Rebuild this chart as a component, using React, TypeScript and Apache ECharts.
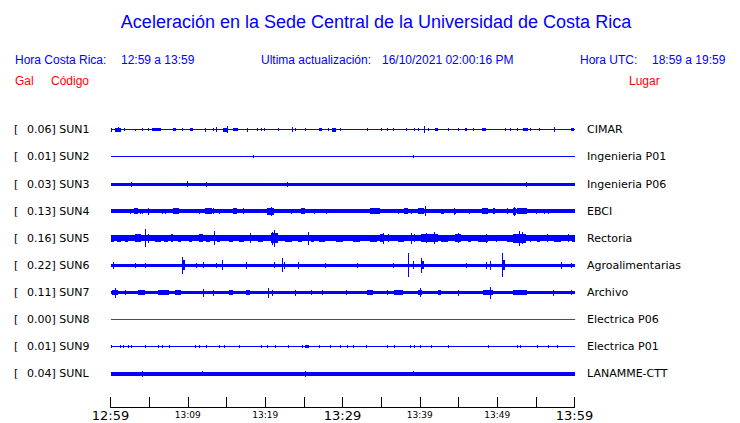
import React, { useEffect, useRef } from "react";
import * as echarts from "echarts";

// ---- data ----
const STATIONS = ["SUN1", "SUN2", "SUN3", "SUN4", "SUN5", "SUN6", "SUN7", "SUN8", "SUN9", "SUNL"];
const PEAK_GAL = [0.06, 0.01, 0.03, 0.13, 0.16, 0.22, 0.11, 0.0, 0.01, 0.04];
const PLACES = [
  "CIMAR",
  "Ingenieria P01",
  "Ingenieria P06",
  "EBCI",
  "Rectoria",
  "Agroalimentarias",
  "Archivo",
  "Electrica P06",
  "Electrica P01",
  "LANAMME-CTT",
];
// minutes after 12:59 (0..60); axis tick labels every 10 minutes
const TIME_LABELS = ["12:59", "13:09", "13:19", "13:29", "13:39", "13:49", "13:59"];
// background noise level of each trace (relative amplitude units, 27 units = trace spacing)
const BASE_AMP = [1, 1, 3, 3.5, 5.5, 3, 3, 1, 1, 4];

// bursts: [start minute, end minute, peak-to-peak amplitude]
const SUN1_BURSTS = [
  [0.1, 0.1, 3.5], [0.6, 1.3, 4], [1.0, 1.0, 5], [1.8, 1.8, 3], [3.2, 3.2, 2], [4.1, 4.1, 2.5], [4.8, 4.8, 3],
  [5.4, 6.5, 3], [8.1, 8.5, 3], [9.3, 9.3, 2.5], [10.3, 10.7, 3], [12.2, 12.2, 3.5], [13.2, 13.2, 3],
  [13.7, 13.7, 5], [14.5, 15.1, 3.5], [15.1, 15.1, 7], [15.9, 16.5, 3], [17.7, 17.7, 3.5], [19.0, 19.0, 2.5],
  [19.5, 19.5, 2.5], [19.9, 19.9, 2.5], [21.6, 21.6, 3], [23.5, 23.5, 4.5], [23.9, 23.9, 3], [25.2, 25.2, 3],
  [26.9, 27.4, 3], [28.1, 28.1, 2.5], [28.7, 29.2, 4], [29.7, 29.7, 3], [33.2, 33.2, 2.5], [35.0, 35.0, 3],
  [35.7, 35.7, 2.5], [36.5, 36.5, 3], [38.2, 38.2, 2.5], [39.2, 39.2, 2.5], [39.8, 39.8, 3], [40.5, 40.5, 7],
  [41.1, 41.1, 3], [42.0, 42.3, 3], [43.7, 43.7, 2.5], [44.9, 44.9, 2.5], [45.8, 46.1, 3], [46.9, 46.9, 3],
  [48.1, 48.5, 3], [51.0, 51.0, 3], [51.6, 51.6, 2.5], [52.5, 52.5, 2.5], [53.4, 54.0, 3], [54.3, 54.3, 2.5],
  [55.4, 55.4, 2.5], [57.3, 57.3, 5], [59.5, 59.9, 3],
];
const SUN2_BURSTS = [[18.4, 18.4, 3], [39.1, 39.1, 3]];
const SUN3_BURSTS = [[2.7, 2.7, 5], [9.9, 9.9, 6], [12.4, 12.4, 5], [22.8, 22.8, 4.5], [53.7, 53.7, 4.5]];
const SUN4_BURSTS = [
  [2.5, 2.5, 5], [3.0, 3.5, 5.5], [3.8, 3.8, 5], [4.1, 4.1, 5], [4.9, 4.9, 7], [6.7, 6.7, 5], [7.0, 7.0, 5],
  [8.1, 8.8, 5.5], [11.5, 11.5, 5], [12.2, 13.1, 5.5], [13.3, 13.3, 6], [14.0, 14.0, 5], [15.9, 16.4, 6],
  [17.1, 17.3, 5.5], [20.2, 21.1, 6.5], [20.7, 20.7, 9], [23.3, 23.3, 5], [24.6, 25.1, 6], [26.3, 26.3, 5],
  [27.9, 27.9, 5], [33.6, 34.8, 5.5], [37.2, 37.2, 5], [37.9, 38.5, 5.5], [38.9, 38.9, 5], [39.7, 40.5, 5.5],
  [40.7, 40.7, 10], [42.7, 43.1, 5], [44.4, 44.4, 7], [44.6, 44.6, 5], [46.3, 46.3, 5], [48.1, 48.8, 6],
  [49.4, 49.7, 5.5], [51.3, 51.3, 6], [52.0, 52.4, 7], [52.2, 52.2, 9], [52.6, 53.9, 6], [55.0, 55.0, 5],
  [56.0, 56.0, 5], [56.6, 56.6, 5],
];
const SUN5_BURSTS = [
  [0.0, 0.4, 7], [0.9, 1.3, 7], [1.9, 2.3, 7], [3.2, 3.9, 8], [4.4, 4.4, 18], [4.8, 4.9, 9], [5.8, 6.5, 7],
  [6.9, 7.4, 7], [7.8, 8.1, 8], [8.7, 9.1, 7], [10.1, 10.6, 7], [11.4, 11.9, 8], [12.3, 12.9, 7],
  [13.4, 13.4, 14], [13.8, 14.2, 7], [15.3, 15.8, 7], [16.6, 17.2, 7], [18.0, 18.0, 10], [19.1, 19.7, 7],
  [20.7, 21.6, 10], [21.1, 21.1, 17], [20.9, 20.9, 13], [22.6, 23.5, 7], [24.3, 24.8, 7], [25.5, 25.5, 13],
  [25.9, 26.3, 7], [26.9, 27.8, 7], [29.1, 30.0, 7], [31.4, 32.3, 7], [33.6, 34.5, 7], [34.8, 35.3, 8],
  [35.2, 35.2, 11], [35.9, 35.9, 8], [37.2, 37.9, 7], [38.9, 38.9, 11], [39.2, 39.2, 8], [40.1, 42.3, 8],
  [41.8, 41.8, 12], [40.8, 40.8, 10], [42.7, 43.6, 7], [44.6, 45.3, 8], [44.9, 44.9, 10], [46.2, 46.6, 7],
  [47.5, 48.8, 7], [48.5, 48.5, 9], [49.8, 49.8, 7], [51.3, 52.0, 7], [52.1, 53.7, 9], [52.8, 52.8, 15],
  [53.2, 53.2, 12], [54.3, 54.3, 7], [55.2, 55.6, 7], [56.5, 56.5, 8], [57.3, 58.2, 7], [59.2, 59.2, 8],
  [59.7, 60.0, 7],
];
const SUN6_BURSTS = [
  [0.3, 0.3, 7], [3.2, 3.2, 5], [4.5, 4.5, 5], [9.2, 9.2, 17], [9.3, 9.6, 10], [11.0, 11.0, 5], [12.0, 12.0, 6],
  [13.6, 13.6, 5], [14.4, 14.4, 10], [17.5, 17.5, 7], [21.1, 21.1, 6], [22.2, 22.2, 14], [22.4, 22.6, 7],
  [24.3, 24.3, 7], [27.8, 27.8, 5], [31.9, 31.9, 5], [36.5, 36.5, 5], [38.5, 38.5, 24], [39.1, 39.1, 8],
  [40.2, 40.2, 15], [40.3, 40.6, 8], [46.0, 46.0, 5], [48.6, 48.6, 7], [49.1, 49.1, 9], [50.6, 50.6, 24],
  [50.7, 51.0, 10], [58.2, 58.2, 7], [59.5, 59.5, 5],
];
const SUN7_BURSTS = [
  [0.6, 0.6, 10], [0.2, 1.0, 5], [1.9, 1.9, 5], [3.6, 4.5, 4.5], [6.2, 7.5, 5], [8.4, 9.1, 5], [11.9, 11.9, 8],
  [13.2, 13.2, 6], [15.3, 15.8, 4.5], [17.5, 18.1, 4.5], [20.4, 20.4, 10], [20.9, 20.9, 6], [23.9, 23.9, 6],
  [25.9, 25.9, 5], [27.4, 27.4, 5], [30.4, 30.4, 5], [33.2, 33.9, 4.5], [35.8, 35.8, 5], [36.6, 37.8, 4.5],
  [40.0, 40.0, 9], [39.7, 40.3, 5], [42.3, 42.7, 5], [44.9, 44.9, 6], [48.2, 49.4, 5], [49.1, 49.1, 12],
  [52.1, 53.9, 4.5], [57.2, 57.2, 6], [59.5, 59.5, 5],
];
const SUN8_BURSTS: number[][] = [];
const SUN9_BURSTS = [
  [0.1, 0.1, 2.5], [1.2, 1.2, 2.5], [1.6, 1.6, 2.5], [2.2, 2.2, 2.5], [2.6, 2.6, 2.5], [4.5, 4.5, 2.5],
  [6.1, 6.1, 2.5], [6.7, 6.7, 2.5], [7.5, 7.5, 2.5], [10.9, 10.9, 2.5], [11.5, 11.5, 2.5], [12.4, 12.4, 2.5],
  [14.0, 14.0, 2.5], [14.7, 14.7, 2.5], [16.6, 16.6, 2.5], [19.4, 19.4, 2.5], [20.2, 20.2, 2.5],
  [21.3, 21.3, 2.5], [22.9, 22.9, 2.5], [24.8, 24.8, 2.5], [25.2, 25.7, 3], [26.9, 26.9, 2.5],
  [28.4, 28.4, 2.5], [29.7, 29.7, 2.5], [30.6, 30.6, 2.5], [31.3, 31.3, 3], [33.0, 33.0, 2.5],
  [35.8, 35.8, 2.5], [36.6, 36.6, 2.5], [38.7, 38.7, 2.5], [39.2, 39.2, 2.5], [40.0, 40.0, 2.5],
  [41.5, 41.5, 2.5], [43.6, 43.6, 2.5], [48.8, 48.8, 2.5], [52.6, 52.6, 2.5], [53.0, 53.0, 2.5],
  [55.2, 55.2, 2.5], [56.6, 56.6, 2.5], [57.8, 57.8, 2.5],
];
const SUNL_BURSTS = [[4.1, 4.1, 6], [11.8, 11.8, 5], [25.1, 25.1, 6], [39.1, 39.1, 5]];

const BURSTS = [
  SUN1_BURSTS, SUN2_BURSTS, SUN3_BURSTS, SUN4_BURSTS, SUN5_BURSTS,
  SUN6_BURSTS, SUN7_BURSTS, SUN8_BURSTS, SUN9_BURSTS, SUNL_BURSTS,
];

const AMP_PER_ROW = 27;
const BLUE = "#0000ff";
const RED = "#ff0000";
const HEAD_FONT = "'Liberation Sans', Arial, Helvetica, sans-serif";
const LABEL_FONT = "'DejaVu Sans', sans-serif";

function buildOption(): any {
  const series = STATIONS.map((st, row) => {
    const data = [[0, 60, row, BASE_AMP[row]], ...BURSTS[row].map((b) => [b[0], b[1], row, b[2]])];
    const color = st === "SUN8" ? RED : BLUE;
    return {
      type: "custom",
      name: st,
      xAxisIndex: 0,
      yAxisIndex: 0,
      silent: true,
      data,
      renderItem: (params: any, api: any) => {
        const t0 = api.value(0);
        const t1 = api.value(1);
        const r = api.value(2);
        const amp = api.value(3);
        const p0 = api.coord([t0, r]);
        const p1 = api.coord([t1, r]);
        const band = Math.abs(api.coord([0, 1])[1] - api.coord([0, 0])[1]);
        const h = Math.max(Math.round((amp * band) / AMP_PER_ROW), 1);
        const isSpike = t1 === t0;
        const x = Math.round(p0[0]);
        const w = isSpike ? 1 : Math.max(Math.round(p1[0]) - x, 1);
        const y = Math.round(p0[1] - h / 2);
        return {
          type: "rect",
          shape: { x, y, width: w, height: h },
          style: { fill: color },
        };
      },
    };
  });

  const txt = (text: string, x: number, y: number, color: string, size: number, align = "left") => ({
    type: "text",
    x,
    y,
    style: {
      text,
      fill: color,
      fontSize: size,
      fontFamily: HEAD_FONT,
      textAlign: align,
      align,
      textVerticalAlign: "middle",
      verticalAlign: "middle",
    },
  });

  return {
    animation: false,
    backgroundColor: "#ffffff",
    grid: [
      { left: 110.5, right: 165.5, top: 116.3, height: 271.2 },
      { left: 110.5, right: 165.5, top: 397, bottom: 16 },
    ],
    xAxis: [
      { type: "value", gridIndex: 0, min: 0, max: 60, show: false },
      {
        type: "value",
        gridIndex: 1,
        min: 0,
        max: 60,
        interval: 5,
        position: "bottom",
        splitLine: { show: false },
        axisLine: { show: true, lineStyle: { color: "#000", width: 1 } },
        axisTick: { show: true, inside: true, length: 10, lineStyle: { color: "#000", width: 1 } },
        axisLabel: {
          show: true,
          margin: 2,
          showMinLabel: true,
          showMaxLabel: true,
          verticalAlign: "top",
          formatter: (v: number) => {
            if (v % 10 !== 0) return "";
            const lab = TIME_LABELS[v / 10];
            return v % 30 === 0 ? `{big|${lab}}` : `{small|${lab}}`;
          },
          rich: {
            big: { fontSize: 13, fontFamily: LABEL_FONT, color: "#000", padding: [0, 0, 0, 0] },
            small: { fontSize: 9, fontFamily: LABEL_FONT, color: "#000", padding: [1, 0, 0, 0] },
          },
        },
      },
    ],
    yAxis: [
      {
        type: "category",
        gridIndex: 0,
        inverse: true,
        data: STATIONS,
        axisLine: { show: false },
        axisTick: { show: false },
        splitLine: { show: false },
        axisLabel: {
          show: true,
          align: "left",
          margin: 96.5,
          formatter: (v: string, i: number) => `{b|[}{v|${PEAK_GAL[i].toFixed(2)}] ${v}}`,
          rich: {
            b: { width: 13, fontSize: 11, fontFamily: LABEL_FONT, color: "#000" },
            v: { fontSize: 11, fontFamily: LABEL_FONT, color: "#000" },
          },
        },
      },
      {
        type: "category",
        gridIndex: 0,
        inverse: true,
        position: "right",
        data: PLACES,
        axisLine: { show: false },
        axisTick: { show: false },
        splitLine: { show: false },
        axisLabel: {
          show: true,
          align: "left",
          margin: 12.5,
          fontSize: 11,
          fontFamily: LABEL_FONT,
          color: "#000",
        },
      },
      { type: "value", gridIndex: 1, min: 0, max: 1, show: false },
    ],
    graphic: [
      txt("Aceleración en la Sede Central de la Universidad de Costa Rica", 376, 22, BLUE, 18, "center"),
      txt("Hora Costa Rica:", 15, 60, BLUE, 12),
      txt("12:59 a 13:59", 121, 60, BLUE, 12),
      txt("Ultima actualización:", 261, 60, BLUE, 12),
      txt("16/10/2021 02:00:16 PM", 382, 60, BLUE, 12),
      txt("Hora UTC:", 580, 60, BLUE, 12),
      txt("18:59 a 19:59", 652, 60, BLUE, 12),
      txt("Gal", 15, 81, RED, 12),
      txt("Código", 51, 81, RED, 12),
      txt("Lugar", 629, 81, RED, 12),
    ],
    series,
  };
}

export default function App() {
  const ref = useRef<HTMLDivElement>(null);
  useEffect(() => {
    document.body.style.margin = "0";
    if (!ref.current) return;
    const chart = echarts.init(ref.current, null, { renderer: "svg" });
    chart.setOption(buildOption());
    return () => chart.dispose();
  }, []);
  return <div ref={ref} style={{ width: 740, height: 423 }} />;
}
